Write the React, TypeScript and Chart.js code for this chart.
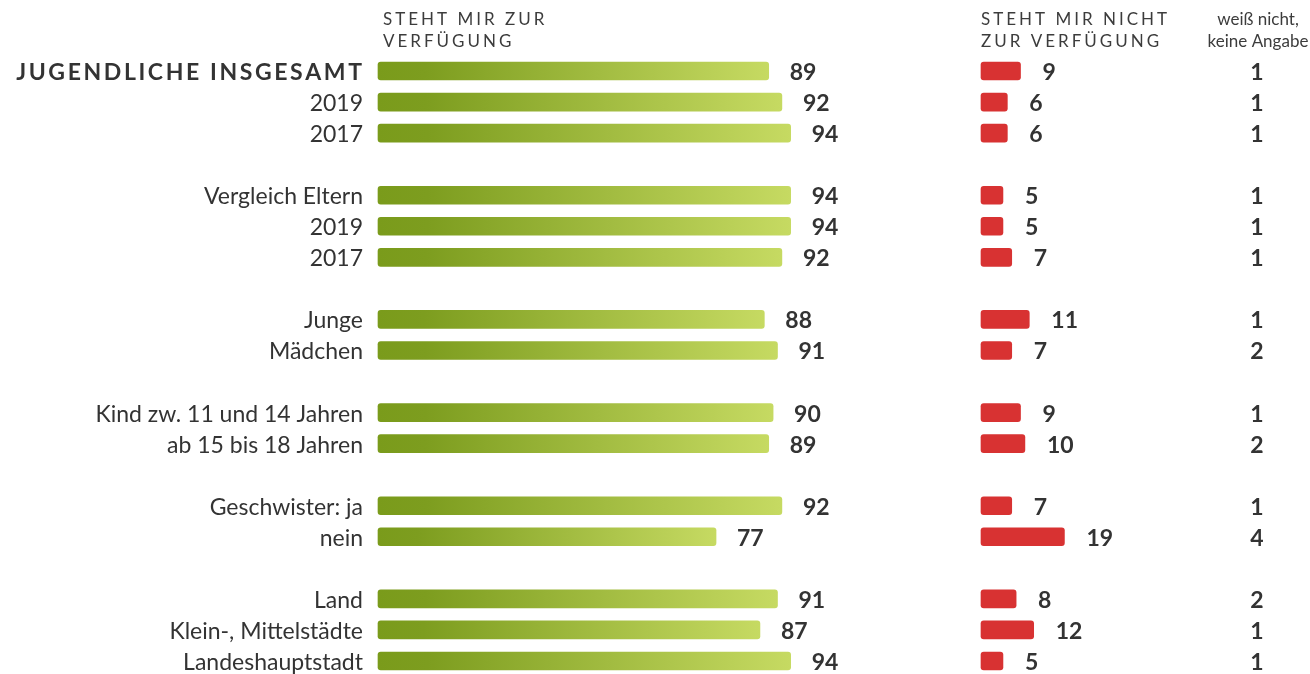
import React, { useEffect, useRef } from "react";
import { Chart, registerables } from "chart.js";

Chart.register(...registerables);

// ---- data ----
const categories: string[] = [
  "JUGENDLICHE INSGESAMT", "2019", "2017", "",
  "Vergleich Eltern", "2019", "2017", "",
  "Junge", "Mädchen", "",
  "Kind zw. 11 und 14 Jahren", "ab 15 bis 18 Jahren", "",
  "Geschwister: ja", "nein", "",
  "Land", "Klein-, Mittelstädte", "Landeshauptstadt",
];
const available: (number | null)[] = [
  89, 92, 94, null,
  94, 94, 92, null,
  88, 91, null,
  90, 89, null,
  92, 77, null,
  91, 87, 94,
];
const notAvailable: (number | null)[] = [
  9, 6, 6, null,
  5, 5, 7, null,
  11, 7, null,
  9, 10, null,
  7, 19, null,
  8, 12, 5,
];
const unknown: (number | null)[] = [
  1, 1, 1, null,
  1, 1, 1, null,
  1, 2, null,
  1, 2, null,
  1, 4, null,
  2, 1, 1,
];
const headerAvailable = ["STEHT MIR ZUR", "VERFÜGUNG"];
const headerNotAvailable = ["STEHT MIR NICHT", "ZUR VERFÜGUNG"];
const headerUnknown = ["weiß nicht,", "keine Angabe"];

// ---- layout / style ----
const W = 1310;
const H = 674;
const PX_PER_UNIT = 4.39;
const LEFT = 378;
const RED_START = 981;
const TEXT = "#333333";
const FONT = "Lato, 'Open Sans', sans-serif";

function drawSpaced(ctx: CanvasRenderingContext2D, text: string, x: number, y: number, spacing: number, align: "left" | "right") {
  const chars = Array.from(text);
  let total = 0;
  const widths = chars.map((c) => ctx.measureText(c).width);
  widths.forEach((w) => (total += w));
  total += spacing * (chars.length - 1);
  let cx = align === "left" ? x : x - total;
  ctx.textAlign = "left";
  chars.forEach((c, i) => {
    ctx.fillText(c, cx, y);
    cx += widths[i] + spacing;
  });
}

const textPlugin = {
  id: "textPlugin",
  afterDraw(chart: any) {
    const ctx: CanvasRenderingContext2D = chart.ctx;
    const y = chart.scales.y;
    const xG = chart.scales.xG;
    const xR = chart.scales.xR;
    ctx.save();
    ctx.textBaseline = "middle";

    // headers
    ctx.fillStyle = "#3c3c3c";
    ctx.font = `400 17px ${FONT}`;
    const gx = xG.getPixelForValue(0) + 5;
    const rx = xR.getPixelForValue(0);
    headerAvailable.forEach((t, i) => drawSpaced(ctx, t, gx, 20 + i * 22, 3.0, "left"));
    headerNotAvailable.forEach((t, i) => drawSpaced(ctx, t, rx, 20 + i * 22, 3.0, "left"));
    ctx.font = `400 17px ${FONT}`;
    ctx.textAlign = "center";
    headerUnknown.forEach((t, i) => ctx.fillText(t, 1258, 20 + i * 22));

    ctx.fillStyle = TEXT;
    categories.forEach((label, i) => {
      if (!label) return;
      const py = y.getPixelForValue(i) + 1.5;
      if (i === 0) {
        ctx.font = `700 23px ${FONT}`;
        drawSpaced(ctx, label, xG.getPixelForValue(0) - 16, py, 2.6, "right");
      } else {
        ctx.font = `400 23px ${FONT}`;
        ctx.textAlign = "right";
        ctx.fillText(label, xG.getPixelForValue(0) - 15, py);
      }
      ctx.font = `700 23px ${FONT}`;
      ctx.textAlign = "left";
      const a = available[i];
      if (a != null) ctx.fillText(String(a), xG.getPixelForValue(a) + 21, py);
      const n = notAvailable[i];
      if (n != null) ctx.fillText(String(n), xR.getPixelForValue(n) + 22, py);
      const u = unknown[i];
      if (u != null) {
        ctx.textAlign = "center";
        ctx.fillText(String(u), 1257, py);
      }
    });
    ctx.restore();
  },
};

export default function App() {
  const ref = useRef<HTMLCanvasElement | null>(null);
  useEffect(() => {
    if (!ref.current) return;
    const xMax = (W - LEFT) / PX_PER_UNIT;
    const rOff = (RED_START - LEFT) / PX_PER_UNIT;
    const chart = new Chart(ref.current, {
      type: "bar",
      data: {
        labels: categories,
        datasets: [
          {
            data: available,
            xAxisID: "xG",
            grouped: false,
            barThickness: 18,
            borderRadius: 3,
            borderSkipped: false,
            clip: false,
            backgroundColor: (c: any) => {
              const chart = c.chart;
              const v = c.raw;
              if (!chart.chartArea || v == null) return "#9cb83c";
              const s = chart.scales.xG;
              const x0 = s.getPixelForValue(0);
              const x1 = s.getPixelForValue(v);
              const g = chart.ctx.createLinearGradient(x0, 0, x1, 0);
              g.addColorStop(0, "#7a9b1b");
              g.addColorStop(0.12, "#7d9d1f");
              g.addColorStop(1, "#c6da62");
              return g;
            },
          } as any,
          {
            data: notAvailable,
            xAxisID: "xR",
            grouped: false,
            barThickness: 18,
            borderRadius: 3,
            borderSkipped: false,
            clip: false,
            backgroundColor: "#d83232",
          } as any,
        ],
      },
      options: {
        animation: false,
        responsive: false,
        indexAxis: "y",
        layout: { padding: { left: LEFT, right: 0, top: 71, bottom: 13 } },
        plugins: { legend: { display: false }, tooltip: { enabled: false } },
        scales: {
          y: { type: "category", offset: false, display: false, grid: { display: false } },
          xG: { type: "linear", min: 0, max: xMax, display: false, grid: { display: false } },
          xR: { type: "linear", min: -rOff, max: xMax - rOff, display: false, grid: { display: false } },
        },
      } as any,
      plugins: [textPlugin],
    });
    return () => chart.destroy();
  }, []);
  return (
    <div style={{ position: "fixed", left: 0, top: 0, width: W, height: H, background: "#fff", overflow: "hidden" }}>
      <canvas ref={ref} width={W} height={H} style={{ width: W, height: H, display: "block" }} />
    </div>
  );
}
